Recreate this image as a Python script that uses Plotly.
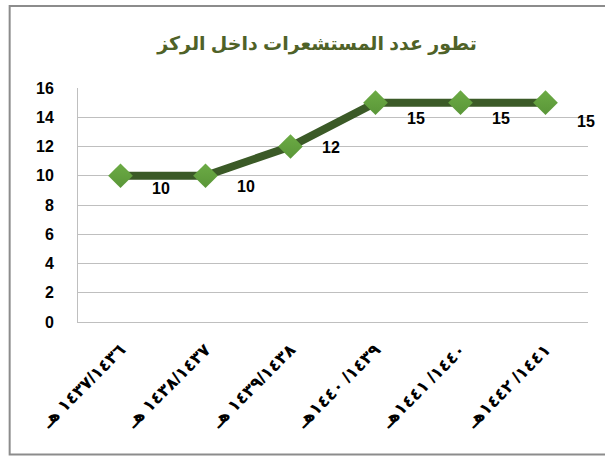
import plotly.graph_objects as go

# ---------------------------------------------------------------------------
# Data
# ---------------------------------------------------------------------------
years = [
    "١٤٣٧/١٤٣٦ هـ",
    "١٤٣٨/١٤٣٧ هـ",
    "١٤٣٩/١٤٣٨ هـ",
    "١٤٣٩/ ١٤٤٠هـ",
    "١٤٤٠/ ١٤٤١هـ",
    "١٤٤١/ ١٤٤٢هـ",
]
counts = [10, 10, 12, 15, 15, 15]
y_ticks = [0, 2, 4, 6, 8, 10, 12, 14, 16]

title_text = "تطور عدد المستشعرات داخل الركز"

# label offsets (px) so the numbers sit below-right of each marker
label_dy = [-13, -11, -1, -16, -16, -19]

LINE_GREEN = "#3B5A27"
MARK_GREEN = "#6CAB45"
TITLE_GREEN = "#4F6228"
GRID = "#BFBFBF"
FONT = "Liberation Sans, DejaVu Sans, Arial, sans-serif"

fig = go.Figure()

fig.add_trace(go.Scatter(
    x=years, y=counts, mode="lines+markers",
    line=dict(color=LINE_GREEN, width=8),
    marker=dict(symbol="diamond", size=19, color=MARK_GREEN,
                line=dict(width=0),
                gradient=dict(type="vertical", color="#5A9638")),
    showlegend=False, hoverinfo="x+y",
))

for cat, val, dy in zip(years, counts, label_dy):
    fig.add_annotation(
        x=cat, y=val, text=str(val), showarrow=False,
        xshift=40, yshift=dy,
        font=dict(family=FONT, size=16, color="black", weight="bold"),
    )

# outer chart border (plot area is 510 x 234 px)
fig.add_shape(type="rect", xref="paper", yref="paper",
              x0=-0.134, x1=1.04, y0=-0.566, y1=1.35,
              line=dict(color="#8C8C8C", width=2), layer="above")

fig.update_layout(
    width=605, height=456,
    paper_bgcolor="white", plot_bgcolor="white",
    margin=dict(l=78, r=17, t=88, b=134),
    title=dict(text=title_text, x=0.524, xanchor="center", y=0.905, yanchor="middle",
               font=dict(family=FONT, size=19, color=TITLE_GREEN, weight="bold")),
    xaxis=dict(
        type="category", tickangle=-45,
        showgrid=False, showline=True, linecolor=GRID, linewidth=1,
        ticks="", ticklabelstandoff=10,
        tickfont=dict(family=FONT, size=17, color="black", weight="bold"),
        range=[-0.5, 5.5],
    ),
    yaxis=dict(
        range=[0, 16], tickvals=y_ticks, showgrid=True, gridcolor=GRID, gridwidth=1,
        showline=True, linecolor=GRID, linewidth=1, zeroline=False,
        ticks="", ticklabelstandoff=20,
        tickfont=dict(family=FONT, size=16, color="black", weight="bold"),
    ),
)

fig.write_html("out.html", config={"displayModeBar": False},
               post_script="document.body.style.margin='0';")
